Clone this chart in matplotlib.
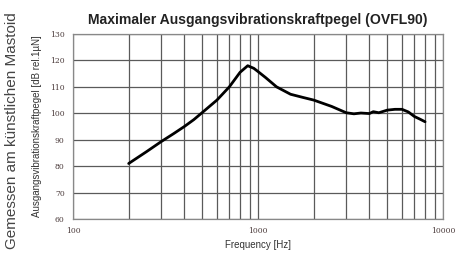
import numpy as np
import matplotlib
matplotlib.use("Agg")
import matplotlib.pyplot as plt
from matplotlib.ticker import FixedLocator, NullFormatter

freq = [200, 250, 300, 350, 400, 450, 500, 600, 700, 800, 880, 950, 1000,
        1100, 1260, 1500, 1750, 2000, 2500, 3000, 3300, 3600, 4000, 4200,
        4500, 5000, 5500, 6000, 6500, 7000, 7500, 8000]
level = [81.0, 85.5, 89.3, 92.3, 95.0, 97.6, 100.3, 105.0, 110.0, 115.5,
         118.0, 117.0, 115.8, 113.5, 110.0, 107.2, 106.0, 105.0, 102.6,
         100.2, 99.8, 100.1, 99.9, 100.6, 100.2, 101.2, 101.5, 101.5, 100.5,
         98.8, 97.8, 96.8]

y_ticks = [60, 70, 80, 90, 100, 110, 120, 130]
x_ticks = [100, 1000, 10000]
x_labels = ["100", "1000", "10000"]

sans = ["Liberation Sans", "DejaVu Sans"]

fig = plt.figure(figsize=(4.55, 2.56), dpi=100)
ax = fig.add_axes([0.1604, 0.1445, 0.8132, 0.7227])

ax.plot(freq, level, color="black", lw=2, solid_capstyle="round")

ax.set_xscale("log")
ax.set_xlim(100, 10000)
ax.set_ylim(60, 130)
ax.set_yticks(y_ticks)
ax.xaxis.set_major_locator(FixedLocator(x_ticks))
minors = [m * d for d in (100, 1000) for m in range(2, 10)]
ax.xaxis.set_minor_locator(FixedLocator(minors))
ax.xaxis.set_minor_formatter(NullFormatter())
ax.set_xticklabels(x_labels)

ax.grid(True, which="both", color="#5a5a5a", lw=0.9)
for s in ax.spines.values():
    s.set_color("#888888")
    s.set_linewidth(0.9)
ax.tick_params(which="both", length=0, labelsize=5.5, labelcolor="#4a3a3a",
               pad=6)
for lab in ax.get_xticklabels() + ax.get_yticklabels():
    lab.set_family("DejaVu Serif")

ax.set_xlabel("Frequency [Hz]", fontsize=7, color="#333333", labelpad=3,
              family=sans)
ax.set_ylabel("Ausgangsvibrationskraftpegel [dB rel.1µN]", fontsize=7,
              color="#333333", labelpad=6, family=sans)
fig.text(0.027, 0.49, "Gemessen am künstlichen Mastoid", rotation=90,
         ha="center", va="center", fontsize=11, color="#444444",
         family=sans)
fig.text(0.567, 0.922, "Maximaler Ausgangsvibrationskraftpegel (OVFL90)",
         ha="center", va="center", fontsize=10.1, fontweight="bold",
         color="#222222", family=sans)

fig.savefig("out.png", dpi=100)
